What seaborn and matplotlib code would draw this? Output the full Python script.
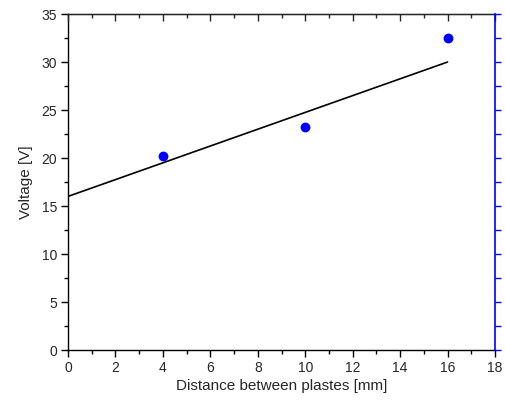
import numpy as np
import pandas as pd
import matplotlib
matplotlib.use("Agg")
import matplotlib.pyplot as plt
from matplotlib.ticker import MultipleLocator
import seaborn as sns

# measured points
distance = [4, 10, 16]
voltage = [20.2, 23.2, 32.5]

# reference line
line_x = [0, 16]
line_y = [16, 30]

sns.set_style("ticks")
plt.rcParams['font.family'] = ['Liberation Sans', 'DejaVu Sans']

fig = plt.figure(figsize=(5.05, 4.05), dpi=100)
ax = fig.add_axes([0.1347, 0.1358, 0.8455, 0.8296])

df_pts = pd.DataFrame({"x": distance, "y": voltage})
df_line = pd.DataFrame({"x": line_x, "y": line_y})

sns.lineplot(data=df_line, x="x", y="y", ax=ax, color="black", linewidth=1.2)
sns.scatterplot(data=df_pts, x="x", y="y", ax=ax, color="blue", s=50,
                edgecolor="blue", linewidth=0, zorder=3)

ax.set_xlim(0, 18)
ax.set_ylim(0, 35)
ax.xaxis.set_major_locator(MultipleLocator(2))
ax.xaxis.set_minor_locator(MultipleLocator(1))
ax.yaxis.set_major_locator(MultipleLocator(5))
ax.yaxis.set_minor_locator(MultipleLocator(2.5))
ax.tick_params(which="major", direction="out", length=5, width=1, labelsize=10,
               color="black", pad=3)
ax.tick_params(which="minor", direction="out", length=3, width=1, color="black")
ax.set_xlabel("Distance between plastes [mm]", fontsize=11, labelpad=3)
ax.set_ylabel("Voltage [V]", fontsize=11, labelpad=6)

for side in ["left", "bottom", "top"]:
    ax.spines[side].set_color("black")
    ax.spines[side].set_linewidth(1)
ax.spines["right"].set_visible(False)

# top axis: inward ticks, no labels
top = ax.twiny()
top.set_xlim(0, 18)
top.xaxis.set_major_locator(MultipleLocator(2))
top.xaxis.set_minor_locator(MultipleLocator(1))
top.tick_params(which="major", direction="in", length=5, width=1, labeltop=False)
top.tick_params(which="minor", direction="in", length=3, width=1)
for side in ["left", "right", "bottom"]:
    top.spines[side].set_visible(False)

# right axis in blue
right = ax.twinx()
right.set_ylim(0, 35)
right.yaxis.set_major_locator(MultipleLocator(5))
right.yaxis.set_minor_locator(MultipleLocator(2.5))
right.tick_params(which="both", direction="out", length=4, width=1, color="blue",
                  labelright=False)
right.spines["right"].set_color("blue")
right.spines["right"].set_linewidth(1.2)
for side in ["left", "top", "bottom"]:
    right.spines[side].set_visible(False)

fig.savefig("out.png", dpi=100)
